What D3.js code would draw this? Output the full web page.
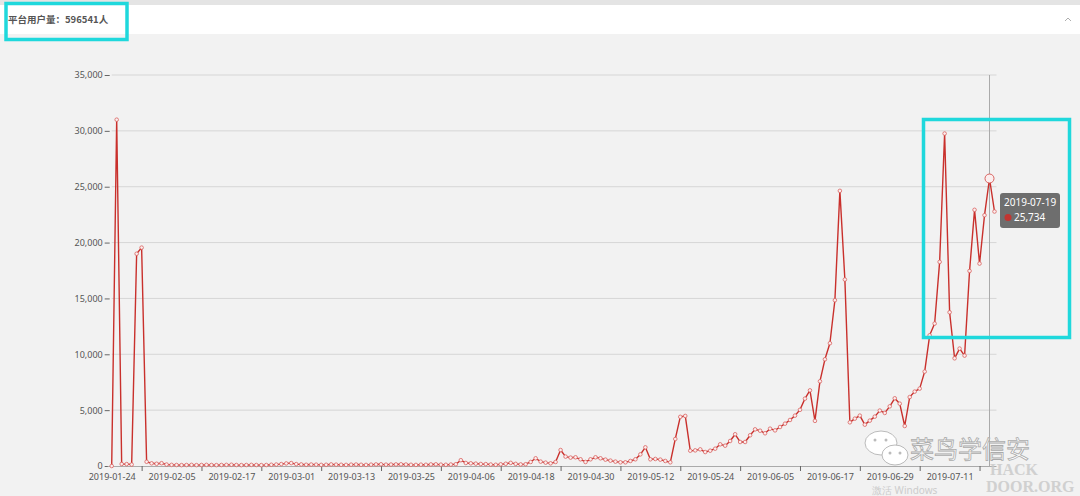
<!DOCTYPE html>
<html>
<head>
<meta charset="utf-8">
<script src="https://cdn.jsdelivr.net/npm/d3@7"></script>
<style>
  html, body { margin: 0; padding: 0; background: #f2f2f2; }
  svg { display: block; }
</style>
</head>
<body>
<svg id="chart" width="1080" height="496"></svg>
<script>
// ---------- DATA ----------
const startDate = "2019-01-24";
const users = [
  0, 31000, 180, 170, 130, 19000, 19550, 380, 240, 200, 250, 130,
  100, 90, 80, 90, 100, 80, 90, 100, 90, 80, 90, 100, 110, 90, 80, 90, 100, 90, 80, 90, 110, 130,
  170, 230, 260, 170, 140,
  110, 130, 120, 100, 110, 140, 120, 110, 100, 120, 130, 110, 100, 120, 140, 150, 120,
  130, 140, 150, 130, 110, 100, 120, 110, 140, 150, 120, 110, 130, 160,
  520, 270, 240, 210, 180, 170, 130, 110, 150, 200, 280, 190, 140, 160,
  360, 690, 390, 300, 240, 360, 1430, 840, 750, 780, 600, 360, 600, 780, 690, 570,
  480, 390, 330, 330, 450, 600, 1040, 1670, 600, 630, 570, 450, 330, 2420, 4400, 4480,
  1370, 1400, 1490, 1250, 1370, 1550, 1940, 1820, 2240, 2840, 2150, 2150, 2750, 3280,
  3160, 2930, 3340, 3190, 3490, 3790, 4120, 4510, 5030, 6030, 6770, 4040, 7580, 9550,
  10990, 14840, 24630, 16690, 3910, 4240, 4510, 3700, 4060, 4420, 4960, 4750, 5340, 6060,
  5580, 3580, 6170, 6660, 6930, 8450, 11700, 12750, 18270, 29760, 13760, 9640, 10510, 9880,
  17460, 22930, 18120, 22450, 25734, 22780
];
const yTicks = [0, 5000, 10000, 15000, 20000, 25000, 30000, 35000];
const xLabels = ["2019-01-24","2019-02-05","2019-02-17","2019-03-01","2019-03-13","2019-03-25",
  "2019-04-06","2019-04-18","2019-04-30","2019-05-12","2019-05-24","2019-06-05","2019-06-17",
  "2019-06-29","2019-07-11"];
const xTickMarks = ["2019-01-30","2019-02-11","2019-02-23","2019-03-07","2019-03-19","2019-03-31",
  "2019-04-12","2019-04-24","2019-05-06","2019-05-18","2019-05-30","2019-06-11","2019-06-23",
  "2019-07-05","2019-07-17"];
const titleText = "平台用户量：596541人";
const hoverDate = "2019-07-19";

// categories (consecutive days)
const fmt = d3.timeFormat("%Y-%m-%d");
const parse = d3.timeParse("%Y-%m-%d");
const dates = d3.range(users.length).map(i => fmt(d3.timeDay.offset(parse(startDate), i)));
const data = dates.map((d, i) => ({ date: d, value: users[i] }));

// ---------- LAYOUT ----------
const svg = d3.select("#chart");
const W = 1080, H = 496;
const plot = { left: 111.7, right: 994.5, top: 75, bottom: 466 };

// background pieces
svg.append("rect").attr("x", 0).attr("y", 0).attr("width", W).attr("height", H).attr("fill", "#f2f2f2");
svg.append("rect").attr("x", 0).attr("y", 0).attr("width", W).attr("height", 5).attr("fill", "#e4e4e4");
svg.append("rect").attr("x", 0).attr("y", 5).attr("width", W).attr("height", 29).attr("fill", "#ffffff");
svg.append("text").attr("x", 8).attr("y", 23)
  .attr("font-family", "'Noto Sans CJK SC', 'Noto Sans', sans-serif")
  .attr("font-size", 9.5).attr("font-weight", "bold").attr("fill", "#555")
  .text(titleText);
// small collapse arrow top-right
svg.append("path").attr("d", "M1065,21 L1068,18 L1071,21")
  .attr("fill", "none").attr("stroke", "#999").attr("stroke-width", 0.8);

const x = d3.scalePoint().domain(dates).range([plot.left, plot.right]);
const y = d3.scaleLinear().domain([0, 35000]).range([plot.bottom, plot.top]);

const font = "'Noto Sans', 'Open Sans', sans-serif";

// grid lines
svg.append("g").selectAll("line").data(yTicks.filter(t => t > 0)).join("line")
  .attr("x1", plot.left).attr("x2", plot.right + 2)
  .attr("y1", d => y(d)).attr("y2", d => y(d))
  .attr("stroke", "#d6d6d6").attr("stroke-width", 1);

// y axis
const yAxis = svg.append("g").attr("transform", `translate(${plot.left - 2},0)`)
  .call(d3.axisLeft(y).tickValues(yTicks).tickFormat(d3.format(",")).tickSize(5).tickPadding(2));
yAxis.select(".domain").remove();
yAxis.selectAll(".tick line").attr("stroke", "#666");
yAxis.selectAll("text").attr("font-family", font).attr("font-size", 9).attr("fill", "#555");

// x axis line
svg.append("line").attr("x1", plot.left - 4).attr("x2", plot.right + 2)
  .attr("y1", plot.bottom + 0.5).attr("y2", plot.bottom + 0.5)
  .attr("stroke", "#aaa").attr("stroke-width", 1);

// x tick marks
const xTickAxis = svg.append("g").attr("transform", `translate(0,${plot.bottom})`)
  .call(d3.axisBottom(x).tickValues(xTickMarks).tickFormat("").tickSize(5));
xTickAxis.select(".domain").remove();
xTickAxis.selectAll(".tick line").attr("stroke", "#666");

// x labels
const xLabelAxis = svg.append("g").attr("transform", `translate(0,${plot.bottom})`)
  .call(d3.axisBottom(x).tickValues(xLabels).tickSize(0).tickPadding(8));
xLabelAxis.select(".domain").remove();
xLabelAxis.selectAll("text").attr("font-family", font).attr("font-size", 9).attr("fill", "#555");

// axis pointer
svg.append("line").attr("x1", x(hoverDate)).attr("x2", x(hoverDate))
  .attr("y1", plot.top).attr("y2", plot.bottom)
  .attr("stroke", "#aaa").attr("stroke-width", 1);

// line
const line = d3.line().x(d => x(d.date)).y(d => y(d.value));
svg.append("path").datum(data).attr("d", line)
  .attr("fill", "none").attr("stroke", "#c9302c").attr("stroke-width", 1.4)
  .attr("stroke-linejoin", "round");

// points
svg.append("g").selectAll("circle").data(data).join("circle")
  .attr("cx", d => x(d.date)).attr("cy", d => y(d.value))
  .attr("r", d => d.date === hoverDate ? 4.5 : 1.8)
  .attr("fill", "#fbeeee").attr("stroke", "#d9625f")
  .attr("stroke-width", d => d.date === hoverDate ? 1 : 0.8);

// watermark
const wm = svg.append("g");
wm.append("ellipse").attr("cx", 881).attr("cy", 443).attr("rx", 16).attr("ry", 12)
  .attr("fill", "#fff").attr("stroke", "#bbb").attr("stroke-width", 1);
wm.append("ellipse").attr("cx", 895).attr("cy", 455).attr("rx", 13).attr("ry", 10)
  .attr("fill", "#fff").attr("stroke", "#bbb").attr("stroke-width", 1);
[[875, 440], [886, 440], [890, 453], [900, 453]].forEach(p =>
  wm.append("circle").attr("cx", p[0]).attr("cy", p[1]).attr("r", 1.5).attr("fill", "#bbb"));
wm.append("text").attr("x", 910).attr("y", 458)
  .attr("font-family", "'Noto Sans CJK SC', sans-serif").attr("font-size", 24)
  .attr("fill", "#fff").attr("stroke", "#aaa").attr("stroke-width", 0.8)
  .text("菜鸟学信安");
wm.append("text").attr("x", 990).attr("y", 475)
  .attr("font-family", "'Liberation Serif', serif").attr("font-size", 16).attr("font-weight", "bold")
  .attr("fill", "#c8c8c8").attr("opacity", 0.8).text("HACK");
wm.append("text").attr("x", 986).attr("y", 492)
  .attr("font-family", "'Liberation Serif', serif").attr("font-size", 16).attr("font-weight", "bold")
  .attr("fill", "#c8c8c8").attr("opacity", 0.8).text("DOOR.ORG");
wm.append("text").attr("x", 872).attr("y", 494)
  .attr("font-family", font).attr("font-size", 10)
  .attr("fill", "#ccc").text("激活 Windows");

// tooltip
const hv = data.find(d => d.date === hoverDate);
const tip = svg.append("g").attr("transform", "translate(1000,193)");
tip.append("rect").attr("width", 60).attr("height", 35).attr("rx", 3)
  .attr("fill", "rgba(80,80,80,0.82)");
tip.append("text").attr("x", 4).attr("y", 13).attr("font-family", font).attr("font-size", 10)
  .attr("fill", "#fff").text(hv.date);
tip.append("circle").attr("cx", 8).attr("cy", 24.5).attr("r", 3.5).attr("fill", "#c23531");
tip.append("text").attr("x", 14).attr("y", 28).attr("font-family", font).attr("font-size", 10)
  .attr("fill", "#fff").text(d3.format(",")(hv.value));

// annotation boxes
svg.append("rect").attr("x", 6).attr("y", 3.5).attr("width", 121).attr("height", 36)
  .attr("fill", "none").attr("stroke", "#1fd8dc").attr("stroke-width", 3.5);
svg.append("rect").attr("x", 923.5).attr("y", 119.5).attr("width", 146).attr("height", 218)
  .attr("fill", "none").attr("stroke", "#1fd8dc").attr("stroke-width", 3.5);
</script>
</body>
</html>
